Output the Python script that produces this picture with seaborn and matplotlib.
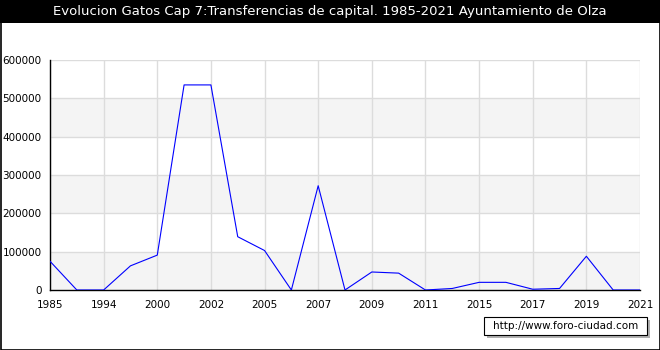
import matplotlib
matplotlib.use("Agg")
import matplotlib.pyplot as plt
import seaborn as sns
import pandas as pd
import numpy as np
from matplotlib.patches import Rectangle

title = "Evolucion Gatos Cap 7:Transferencias de capital. 1985-2021 Ayuntamiento de Olza"
tick_labels = ["1985", "1994", "2000", "2002", "2005", "2007", "2009", "2011", "2015", "2017", "2019", "2021"]
values = [75000, 0, 0, 63000, 91000, 535000, 535000, 139000, 103000, 0, 272000, 0,
          47000, 44000, 0, 4000, 20000, 20000, 2000, 4000, 88000, 0, 0]
yticks = [0, 100000, 200000, 300000, 400000, 500000, 600000]

sns.set_style("white")
plt.rcParams['font.family'] = ['DejaVu Sans']
plt.rcParams['text.color'] = 'black'
plt.rcParams['xtick.color'] = 'black'
plt.rcParams['ytick.color'] = 'black'

W, H = 660, 350
fig = plt.figure(figsize=(W / 100, H / 100), dpi=100)
ax = fig.add_axes([50 / W, 1 - 290 / H, 590 / W, 230 / H])

df = pd.DataFrame({"idx": np.arange(len(values)), "value": values})

# alternating bands
for i in range(0, 6, 2):
    ax.axhspan(yticks[i], yticks[i + 1], color="#f4f4f4", zorder=0, lw=0)
for y in yticks[1:]:
    ax.axhline(y, color="#dcdcdc", lw=1, zorder=1)
for k in range(0, len(values), 2):
    ax.axvline(k, color="#dcdcdc", lw=1, zorder=1)

sns.lineplot(data=df, x="idx", y="value", ax=ax, color="#0000ff", lw=0.8, zorder=3)

ax.set_xlim(0, len(values) - 1)
ax.set_ylim(0, 600000)
ax.set_xticks(range(0, len(values), 2))
ax.set_xticklabels(tick_labels)
ax.set_yticks(yticks)
ax.set_yticklabels([str(v) for v in yticks])
ax.set_yticks([50000, 150000, 250000, 350000, 450000, 550000], minor=True)
ax.set_xlabel("")
ax.set_ylabel("")
for s in ["top", "right"]:
    ax.spines[s].set_visible(False)
for s in ["left", "bottom"]:
    ax.spines[s].set_color("black")
    ax.spines[s].set_linewidth(1)
ax.tick_params(axis="both", which="major", labelsize=7.5, length=4, width=0.8, color="black",
               labelcolor="black", direction="out", pad=2)
ax.tick_params(axis="y", which="minor", length=3, width=0.8, color="black")
ax.tick_params(axis="x", which="major", length=5)

# title bar
fig.patches.append(Rectangle((0, 1 - 23 / H), 1, 23 / H, transform=fig.transFigure,
                             facecolor="black", edgecolor="none", zorder=0))
fig.text(0.5, 1 - 12 / H, title, color="white", ha="center", va="center", fontsize=9.5)

# outer border
fig.patches.append(Rectangle((0.5 / W, 0.5 / H), 1 - 1 / W, 1 - 1 / H, transform=fig.transFigure,
                             facecolor="none", edgecolor="black", lw=1.2, zorder=5))

# watermark box
fig.patches.append(Rectangle((487 / W, 1 - 338 / H), 163 / W, 18 / H, transform=fig.transFigure,
                             facecolor="#b0b0b0", edgecolor="none", zorder=2))
fig.patches.append(Rectangle((484 / W, 1 - 335 / H), 163 / W, 18 / H, transform=fig.transFigure,
                             facecolor="white", edgecolor="black", lw=0.8, zorder=3))
fig.text((484 + 163 / 2) / W, 1 - 326 / H, "http://www.foro-ciudad.com", ha="center", va="center",
         fontsize=7.5, color="black", zorder=4)

fig.savefig("out.png", dpi=100)
